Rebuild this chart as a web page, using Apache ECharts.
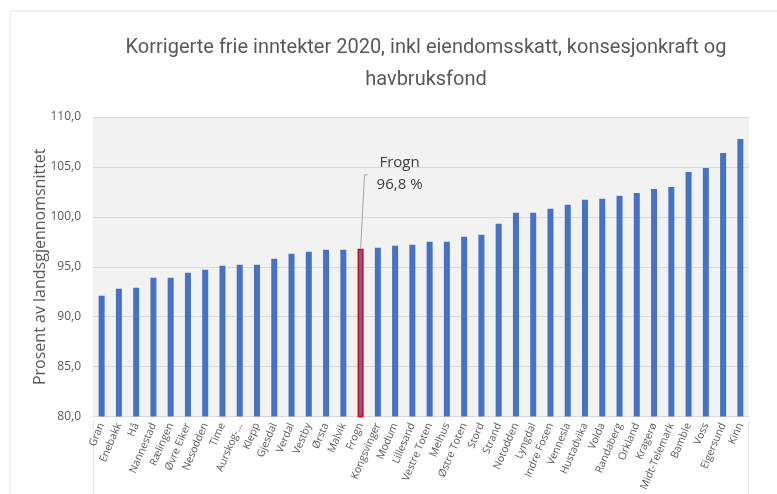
<!DOCTYPE html>
<html>
<head>
<meta charset="utf-8">
<script src="https://cdn.jsdelivr.net/npm/echarts@6/dist/echarts.min.js"></script>
<style>
html,body{margin:0;padding:0;background:#fff;}
#c{width:777px;height:494px;}
</style>
</head>
<body>
<div id="c"></div>
<script>
const categories = ['Gran','Enebakk','Hå','Nannestad','Rælingen','Øvre Eiker','Nesodden','Time','Aurskog-...','Klepp','Gjesdal','Verdal','Vestby','Ørsta','Malvik','Frogn','Kongsvinger','Modum','Lillesand','Vestre Toten','Melhus','Østre Toten','Stord','Strand','Notodden','Lyngdal','Indre Fosen','Vennesla','Hustadvika','Volda','Randaberg','Orkland','Kragerø','Midt-Telemark','Bamble','Voss','Eigersund','Kinn'];
const values = [92.1,92.8,92.9,93.9,93.9,94.4,94.7,95.1,95.2,95.2,95.8,96.3,96.5,96.7,96.7,96.8,96.9,97.1,97.2,97.5,97.5,98.0,98.2,99.3,100.4,100.4,100.8,101.2,101.7,101.8,102.1,102.4,102.8,103.0,104.5,104.9,106.4,107.8];
const highlightName = 'Frogn';
const highlightLabel = 'Frogn\n96,8 %';
const yTicks = [80,85,90,95,100,105,110];
const titleText = 'Korrigerte frie inntekter 2020, inkl eiendomsskatt, konsesjonkraft og\nhavbruksfond';
const yName = 'Prosent av landsgjennomsnittet';

const hiIdx = categories.indexOf(highlightName);
const FONT = "'Open Sans', 'Noto Sans', sans-serif";

const data = values.map((v, i) => {
  if (i !== hiIdx) return v;
  return {
    value: v,
    itemStyle: { color: '#4472C4', borderColor: '#E00000', borderWidth: 1.5 },
    label: {
      show: true,
      formatter: highlightLabel,
      color: '#404040',
      fontSize: 15,
      lineHeight: 22,
      fontFamily: FONT,
      align: 'center'
    }
  };
});

const chart = echarts.init(document.getElementById('c'), null, { renderer: 'canvas' });
chart.setOption({
  backgroundColor: '#ffffff',
  animation: false,
  title: {
    text: titleText,
    left: 421,
    top: 27,
    textAlign: 'center',
    textStyle: {
      fontFamily: "Roboto, 'Open Sans', sans-serif",
      fontWeight: 'normal',
      fontSize: 20,
      lineHeight: 32,
      color: '#595959'
    }
  },
  graphic: [
    { id: 'frame', type: 'polyline', shape: { points: [[10, 494], [10, 11], [777, 11]] }, style: { stroke: '#e3e3e3', fill: null, lineWidth: 1 }, silent: true },
    { id: 'edgeL', type: 'line', shape: { x1: 93.5, y1: 420, x2: 93.5, y2: 494 }, style: { stroke: '#e6e6e6', lineWidth: 1 }, silent: true },
    { id: 'edgeR', type: 'line', shape: { x1: 748.5, y1: 420, x2: 748.5, y2: 494 }, style: { stroke: '#e6e6e6', lineWidth: 1 }, silent: true }
  ],
  grid: { left: 93, right: 28, top: 117, bottom: 74, show: true, backgroundColor: '#f2f2f2', borderWidth: 0 },
  xAxis: {
    type: 'category',
    data: categories,
    boundaryGap: true,
    axisLine: { show: true, lineStyle: { color: '#d9d9d9' } },
    axisTick: { show: false },
    axisLabel: {
      interval: 0,
      rotate: 67,
      fontSize: 10.5,
      color: '#595959',
      fontFamily: FONT,
      margin: 7
    }
  },
  yAxis: {
    type: 'value',
    min: yTicks[0],
    max: yTicks[yTicks.length - 1],
    interval: yTicks[1] - yTicks[0],
    name: yName,
    nameLocation: 'middle',
    nameGap: 45,
    nameMoveOverlap: false,
    nameTextStyle: { fontSize: 16, color: '#595959', fontFamily: FONT },
    axisLine: { show: false },
    axisTick: { show: false },
    splitLine: { lineStyle: { color: '#d9d9d9', width: 1 } },
    axisLabel: {
      fontSize: 12,
      color: '#595959',
      fontFamily: FONT,
      margin: 12,
      formatter: v => v.toFixed(1).replace('.', ',')
    }
  },
  series: [{
    type: 'bar',
    data: data,
    barWidth: 6,
    itemStyle: { color: '#4472C4' },
    label: { show: false },
    labelLayout: function (params) {
      if (params.dataIndex !== hiIdx) return {};
      const r = params.rect;
      return { x: r.x + r.width / 2 + 39, y: r.y - 97, align: 'center', verticalAlign: 'top' };
    }
  }]
});

// leader line for the highlighted bar, anchored on the bar top via the library's scales
const barTop = chart.convertToPixel({ seriesIndex: 0 }, [hiIdx, values[hiIdx]]);
chart.setOption({
  graphic: [
    { id: 'leader', type: 'polyline', silent: true, z: 10,
      shape: { points: [[barTop[0], barTop[1]], [barTop[0] + 4, barTop[1] - 74], [barTop[0] + 7, barTop[1] - 74]] },
      style: { stroke: '#a6a6a6', fill: null, lineWidth: 1 } }
  ]
});
</script>
</body>
</html>
